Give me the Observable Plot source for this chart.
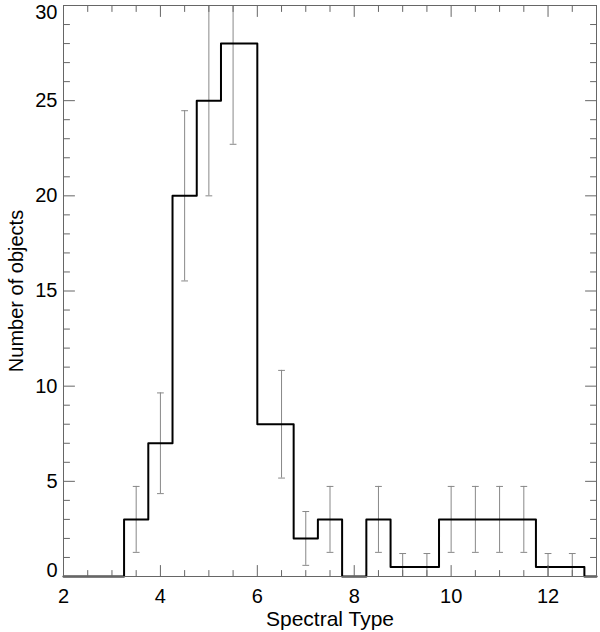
<!DOCTYPE html>
<html><head><meta charset="utf-8">
<script src="https://cdn.jsdelivr.net/npm/d3@7"></script>
<script src="https://cdn.jsdelivr.net/npm/@observablehq/plot@0.6"></script>
<style>body{margin:0;background:#fff}</style>
</head><body><div id="chart"></div>
<script>
const spectralType = [2.0,2.5,3.0,3.5,4.0,4.5,5.0,5.5,6.5,7.0,7.5,8.0,8.5,9.0,9.5,10.0,10.5,11.0,11.5,12.0,12.5,13.0];
const counts       = [0,  0,  0,  3,  7,  20, 25, 28, 8,  2,  3,  0,  3,  0.5,0.5,3,   3,   3,   3,   0.5, 0.5, 0];
const xTickLabels = [2,4,6,8,10,12];
const xMinorTicks = [2.5,3,3.5,4.5,5,5.5,6.5,7,7.5,8.5,9,9.5,10.5,11,11.5,12.5];
const yTickLabels = [0,5,10,15,20,25,30];
const yMinorTicks = [1,2,3,4,6,7,8,9,11,12,13,14,16,17,18,19,21,22,23,24,26,27,28,29];
const xTitle = "Spectral Type";
const yTitle = "Number of objects";

const hist = spectralType.map((x, i) => ({x, n: counts[i]}));
const errs = hist.filter(d => d.n > 0).map(d => ({x: d.x, lo: d.n - Math.sqrt(d.n), hi: d.n + Math.sqrt(d.n)}));

const seg = {draw(ctx, l) { ctx.moveTo(0, 0); ctx.lineTo(0, -l); }};
const axisColor = "#666";
const errColor = "#888";
const font = "Liberation Sans, Arial, Helvetica, sans-serif";
const fs = 20;
const yMin = yTickLabels[0], yMax = yTickLabels[yTickLabels.length - 1];

function ticks(values, pos, len) {
  const out = [];
  const common = {length: len, anchor: "start", shape: seg, stroke: axisColor, strokeWidth: 1};
  if (pos === "x") {
    out.push(Plot.vector(values, {...common, x: d => d, y: () => yMin, rotate: 0}));
    out.push(Plot.vector(values, {...common, x: d => d, y: () => yMax, rotate: 180}));
  } else {
    out.push(Plot.vector(values, {...common, y: d => d, x: () => 2, rotate: 90}));
    out.push(Plot.vector(values, {...common, y: d => d, x: () => 13, rotate: -90}));
  }
  return out;
}

const yAxisOpts = {anchor: "left", tickSize: 0, tickPadding: 6, label: null, fontSize: fs, fill: "#000"};

const chart = Plot.plot({
  width: 600, height: 632,
  marginLeft: 63, marginRight: 4, marginTop: 5, marginBottom: 56,
  style: {fontFamily: font, fontSize: fs + "px", background: "#fff", color: "#000"},
  x: {domain: [2, 13]},
  y: {domain: [yMin, yMax]},
  marks: [
    Plot.ruleX(errs, {x: "x", y1: "lo", y2: "hi", stroke: errColor, strokeWidth: 1, clip: true}),
    Plot.vector(errs.filter(d => d.lo >= yMin), {x: "x", y: "lo", length: 6, rotate: 90, anchor: "middle", shape: seg, stroke: errColor, strokeWidth: 1}),
    Plot.vector(errs.filter(d => d.hi <= yMax), {x: "x", y: "hi", length: 6, rotate: 90, anchor: "middle", shape: seg, stroke: errColor, strokeWidth: 1}),
    Plot.line(hist, {x: "x", y: "n", curve: "step", stroke: "#000", strokeWidth: 2}),
    Plot.frame({stroke: axisColor, strokeWidth: 1}),
    ...ticks(xTickLabels, "x", 11),
    ...ticks(xMinorTicks, "x", 6),
    ...ticks(yTickLabels, "y", 11),
    ...ticks(yMinorTicks, "y", 6),
    Plot.axisX(xTickLabels, {anchor: "bottom", tickSize: 0, tickPadding: 12, label: null, fontSize: fs, fill: "#000"}),
    Plot.axisY(yTickLabels.slice(1, -1), yAxisOpts),
    Plot.axisY([yMin], {...yAxisOpts, dy: -6}),
    Plot.axisY([yMax], {...yAxisOpts, dy: 7}),
    Plot.text([xTitle], {text: d => d, frameAnchor: "bottom", dy: 49, lineAnchor: "bottom", textAnchor: "middle", fontSize: 21, fill: "#000"}),
    Plot.text([yTitle], {text: d => d, frameAnchor: "left", rotate: -90, dx: -41, lineAnchor: "bottom", textAnchor: "middle", fontSize: 20, fill: "#000"})
  ]
});
document.getElementById("chart").appendChild(chart);
</script>
</body></html>
